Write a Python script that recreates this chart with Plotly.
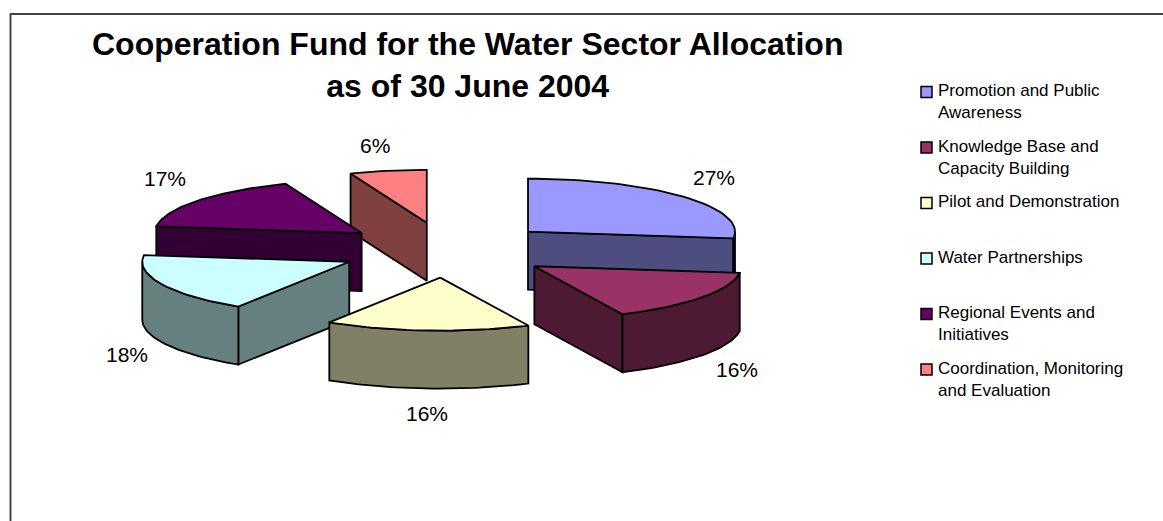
import math
import plotly.graph_objects as go

# ---- data ----
categories = ["Promotion and Public<br>Awareness", "Knowledge Base and<br>Capacity Building",
              "Pilot and Demonstration", "Water Partnerships",
              "Regional Events and<br>Initiatives", "Coordination, Monitoring<br>and Evaluation"]
values = [27, 16, 16, 18, 17, 6]
top_colors = ["#9999FF", "#993366", "#FFFFCC", "#CCFFFF", "#660066", "#FF8080"]
side_colors = ["#4D4D80", "#4D1933", "#808066", "#668080", "#330033", "#804040"]
title_text = "<b>Cooperation Fund for the Water Sector Allocation<br>as of 30 June 2004</b>"

# ---- layout of the exploded pie (pixel-scale axes) ----
CX, CY, RX, RY, DEPTH, EXPLODE = 447, 250, 207, 53, 58, 108
W, H = 1163, 521
label_pos = [(714, 177), (737, 369), (427, 413), (127, 354), (165, 178), (375, 145)]
legend_x, legend_y0, legend_dy = 923, 92, 55.5
draw_order = [5, 4, 0, 3, 2, 1]
LW = 1.8

total = sum(values)
angles = [0]
for v in values:
    angles.append(angles[-1] + 360 * v / total)


def pt(ax, ay, th, dz=0):
    r = math.radians(th)
    return ax + RX * math.sin(r), ay - RY * math.cos(r) + dz


def arc(ax, ay, a, b, dz=0, n=40):
    return [pt(ax, ay, a + (b - a) * i / n, dz) for i in range(n + 1)]


fig = go.Figure()


def poly(pts, fill):
    xs = [p[0] for p in pts] + [pts[0][0]]
    ys = [p[1] for p in pts] + [pts[0][1]]
    fig.add_trace(go.Scatter(x=xs, y=ys, mode="lines", fill="toself", fillcolor=fill,
                             line=dict(color="black", width=LW), hoverinfo="skip",
                             showlegend=False))


for i in draw_order:
    a, b = angles[i], angles[i + 1]
    mid = math.radians((a + b) / 2)
    ax = CX + EXPLODE * math.sin(mid)
    ay = CY - EXPLODE * RY / RX * math.cos(mid)
    # radial walls facing the viewer
    if 180 < a % 360 < 360:
        o = pt(ax, ay, a)
        poly([(ax, ay), o, (o[0], o[1] + DEPTH), (ax, ay + DEPTH)], side_colors[i])
    if 0 < b < 180:
        o = pt(ax, ay, b)
        poly([(ax, ay), o, (o[0], o[1] + DEPTH), (ax, ay + DEPTH)], side_colors[i])
    # outer rim facing the viewer
    lo, hi = max(a, 90), min(b, 270)
    if lo < hi:
        poly(arc(ax, ay, lo, hi) + arc(ax, ay, hi, lo, DEPTH), side_colors[i])
    # top face
    poly([(ax, ay)] + arc(ax, ay, a, b), top_colors[i])

annotations = [dict(x=467, y=65, xref="x", yref="y", text=title_text, showarrow=False,
                    font=dict(family="Liberation Sans", size=32, color="black"), align="center")]
for (x, y), v in zip(label_pos, values):
    annotations.append(dict(x=x, y=y, xref="x", yref="y", text=f"{v}%", showarrow=False,
                            font=dict(family="Liberation Sans", size=21, color="black")))

# legend
for i, name in enumerate(categories):
    y = legend_y0 + i * legend_dy
    fig.add_trace(go.Scatter(x=[legend_x + 3.5], y=[y], mode="markers",
                             marker=dict(symbol="square", size=11, color=top_colors[i],
                                         line=dict(color="black", width=1.5)),
                             hoverinfo="skip", showlegend=False))
    annotations.append(dict(x=legend_x + 13, y=y - 13, xref="x", yref="y", text=name, showarrow=False,
                            xanchor="left", yanchor="top", align="left",
                            font=dict(family="Liberation Sans", size=17, color="black")))

shapes = [
    dict(type="line", xref="x", yref="y", x0=10.5, x1=10.5, y0=14, y1=521, line=dict(color="#444444", width=2)),
    dict(type="line", xref="x", yref="y", x0=10, x1=1163, y0=14, y1=14, line=dict(color="#444444", width=2)),
]

fig.update_layout(
    width=W, height=H, margin=dict(l=0, r=0, t=0, b=0), paper_bgcolor="white", plot_bgcolor="white",
    xaxis=dict(range=[0, W], visible=False, fixedrange=True),
    yaxis=dict(range=[H, 0], visible=False, fixedrange=True),
    annotations=annotations, shapes=shapes, showlegend=False,
)
fig.write_html("out.html", config={"displayModeBar": False},
               post_script="document.body.style.margin='0';document.documentElement.style.overflow='hidden';")
